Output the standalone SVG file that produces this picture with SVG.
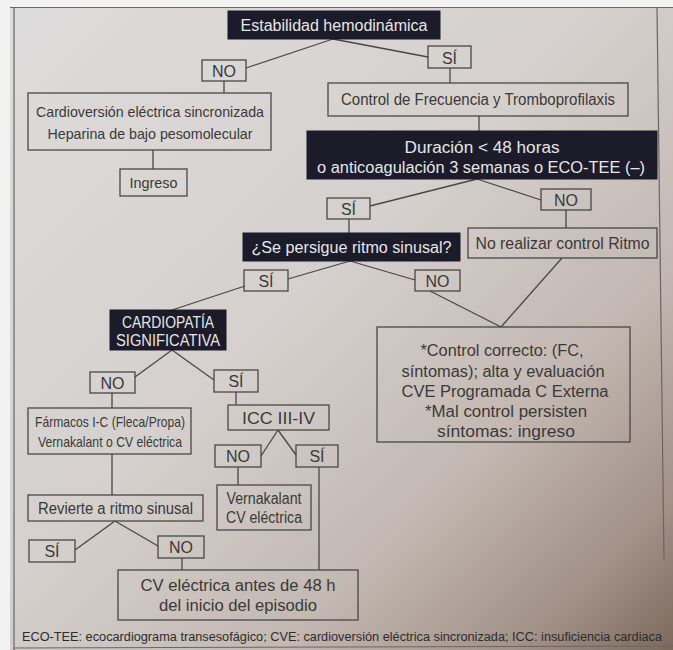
<svg xmlns="http://www.w3.org/2000/svg" width="673" height="650" viewBox="0 0 673 650">
<defs>
<linearGradient id="bg" x1="0" y1="0" x2="1" y2="1">
<stop offset="0" stop-color="#dddcdc"/>
<stop offset="0.45" stop-color="#d5d0cd"/>
<stop offset="0.7" stop-color="#c3b8b2"/>
<stop offset="0.88" stop-color="#a29288"/>
<stop offset="1" stop-color="#7c695e"/>
</linearGradient>
<style>
.b{fill:none;stroke:#4a4745;stroke-width:1.3}
.d{fill:#1c1b29;stroke:#1c1b29;stroke-width:1}
.t{font-family:"Liberation Sans",Arial,sans-serif;font-size:16px;fill:#3b3937;text-anchor:middle}
.s{font-size:15px}
.w{fill:#e6e6e6}
.f{font-family:"Liberation Sans Narrow","Liberation Sans",Arial,sans-serif;font-size:12.5px;fill:#2e2c2b;text-anchor:middle}
.c line{stroke:#4a4745;stroke-width:1.3;fill:none}
</style>
</defs>
<rect x="0" y="0" width="673" height="650" fill="#f2f2f2"/>
<rect x="10" y="7" width="663" height="643" fill="url(#bg)"/>
<g id="frame" fill="none" stroke="#6a6664" stroke-width="1.2">
<line x1="14" y1="7" x2="14" y2="650"/>
<line x1="10" y1="7.5" x2="673" y2="7.5"/>
<line x1="657" y1="7" x2="664" y2="560"/>
<line x1="14" y1="648" x2="673" y2="646"/>
</g>

<g class="c" id="connectors">
<line x1="333" y1="39" x2="246" y2="68"/>
<line x1="333" y1="39" x2="428" y2="57"/>
<line x1="224" y1="81" x2="224" y2="93"/>
<line x1="450" y1="68" x2="450" y2="83"/>
<line x1="153" y1="150" x2="153" y2="169"/>
<line x1="479" y1="116" x2="479" y2="131"/>
<line x1="477" y1="179" x2="370" y2="206"/>
<line x1="477" y1="179" x2="541" y2="200"/>
<line x1="349" y1="219" x2="349" y2="233"/>
<line x1="566" y1="210" x2="566" y2="228"/>
<line x1="350" y1="261" x2="288" y2="279"/>
<line x1="350" y1="261" x2="415" y2="280"/>
<line x1="245" y1="286" x2="172" y2="310"/>
<line x1="430" y1="291" x2="501" y2="327"/>
<line x1="562" y1="258" x2="501" y2="327"/>
<line x1="172" y1="350" x2="135" y2="377"/>
<line x1="172" y1="350" x2="214" y2="380"/>
<line x1="112" y1="393" x2="112" y2="408"/>
<line x1="236" y1="392" x2="236" y2="405"/>
<line x1="278" y1="430" x2="261" y2="456"/>
<line x1="278" y1="430" x2="296" y2="455"/>
<line x1="238" y1="467" x2="238" y2="485"/>
<line x1="319" y1="467" x2="319" y2="570"/>
<line x1="112" y1="454" x2="112" y2="495"/>
<line x1="115" y1="521" x2="75" y2="550"/>
<line x1="115" y1="521" x2="158" y2="546"/>
<line x1="182" y1="558" x2="182" y2="570"/>
</g>

<g id="n-estabilidad">
<rect class="d" x="228" y="11" width="212" height="28"/>
<text class="t w" x="334" y="30.5" textLength="187" lengthAdjust="spacingAndGlyphs">Estabilidad hemodinámica</text>
</g>
<g id="n-no1">
<rect class="b" x="202" y="60" width="44" height="21"/>
<text class="t" x="224" y="76.5">NO</text>
</g>
<g id="n-si1">
<rect class="b" x="428" y="46" width="43" height="22"/>
<text class="t" x="449.5" y="63.5">SÍ</text>
</g>
<g id="n-cardioversion">
<rect class="b" x="28" y="93" width="243" height="57"/>
<text class="t s" x="150" y="117" textLength="228" lengthAdjust="spacingAndGlyphs">Cardioversión eléctrica sincronizada</text>
<text class="t s" x="150" y="139" textLength="205" lengthAdjust="spacingAndGlyphs">Heparina de bajo pesomolecular</text>
</g>
<g id="n-ingreso">
<rect class="b" x="120" y="169" width="67" height="27"/>
<text class="t s" x="153.5" y="188" textLength="48" lengthAdjust="spacingAndGlyphs">Ingreso</text>
</g>
<g id="n-control">
<rect class="b" x="328" y="83" width="300" height="33"/>
<text class="t" x="478" y="105" textLength="274" lengthAdjust="spacingAndGlyphs">Control de Frecuencia y Tromboprofilaxis</text>
</g>
<g id="n-duracion">
<rect class="d" x="307" y="131" width="350" height="48"/>
<text class="t w" x="482" y="153" textLength="155" lengthAdjust="spacingAndGlyphs">Duración &lt; 48 horas</text>
<text class="t w" x="481" y="173" textLength="328" lengthAdjust="spacingAndGlyphs">o anticoagulación 3 semanas o ECO-TEE (–)</text>
</g>
<g id="n-si2">
<rect class="b" x="327" y="198" width="43" height="21"/>
<text class="t" x="348.5" y="214.5">SÍ</text>
</g>
<g id="n-no2">
<rect class="b" x="541" y="189" width="50" height="21"/>
<text class="t" x="566" y="205.5">NO</text>
</g>
<g id="n-persigue">
<rect class="d" x="243" y="233" width="217" height="28"/>
<text class="t w" x="351.5" y="252.5" textLength="200" lengthAdjust="spacingAndGlyphs">¿Se persigue ritmo sinusal?</text>
</g>
<g id="n-norealizar">
<rect class="b" x="468" y="228" width="189" height="30"/>
<text class="t" x="562.5" y="248.5" textLength="174" lengthAdjust="spacingAndGlyphs">No realizar control Ritmo</text>
</g>
<g id="n-si3">
<rect class="b" x="244" y="270" width="44" height="21"/>
<text class="t" x="266" y="286.5">SÍ</text>
</g>
<g id="n-no3">
<rect class="b" x="415" y="270" width="45" height="21"/>
<text class="t" x="437.5" y="286.5">NO</text>
</g>
<g id="n-cardiopatia">
<rect class="d" x="110" y="310" width="116" height="40"/>
<text class="t w" x="168" y="328" textLength="92" lengthAdjust="spacingAndGlyphs">CARDIOPATÍA</text>
<text class="t w" x="168" y="346" textLength="104" lengthAdjust="spacingAndGlyphs">SIGNIFICATIVA</text>
</g>
<g id="n-controlcorrecto">
<rect class="b" x="377" y="327" width="253" height="115"/>
<text class="t" x="502" y="356" textLength="163" lengthAdjust="spacingAndGlyphs">*Control correcto: (FC,</text>
<text class="t" x="503" y="377" textLength="203" lengthAdjust="spacingAndGlyphs">síntomas); alta y evaluación</text>
<text class="t" x="505" y="397" textLength="207" lengthAdjust="spacingAndGlyphs">CVE Programada C Externa</text>
<text class="t" x="506" y="417" textLength="162" lengthAdjust="spacingAndGlyphs">*Mal control persisten</text>
<text class="t" x="506" y="437" textLength="138" lengthAdjust="spacingAndGlyphs">síntomas: ingreso</text>
</g>
<g id="n-no4">
<rect class="b" x="90" y="372" width="45" height="21"/>
<text class="t" x="112.5" y="388.5">NO</text>
</g>
<g id="n-si4">
<rect class="b" x="214" y="370" width="44" height="22"/>
<text class="t" x="236" y="387">SÍ</text>
</g>
<g id="n-farmacos">
<rect class="b" x="28" y="408" width="163" height="46"/>
<text class="t s" x="110" y="427" textLength="150" lengthAdjust="spacingAndGlyphs">Fármacos I-C (Fleca/Propa)</text>
<text class="t s" x="110" y="447" textLength="144" lengthAdjust="spacingAndGlyphs">Vernakalant o CV eléctrica</text>
</g>
<g id="n-icc">
<rect class="b" x="228" y="405" width="101" height="25"/>
<text class="t" x="278.5" y="423.5" textLength="73" lengthAdjust="spacingAndGlyphs">ICC III-IV</text>
</g>
<g id="n-no5">
<rect class="b" x="215" y="445" width="46" height="22"/>
<text class="t" x="238" y="461.5">NO</text>
</g>
<g id="n-si5">
<rect class="b" x="296" y="445" width="42" height="22"/>
<text class="t" x="317" y="461.5">SÍ</text>
</g>
<g id="n-vernakalant">
<rect class="b" x="217" y="485" width="94" height="45"/>
<text class="t" x="264" y="504" textLength="75" lengthAdjust="spacingAndGlyphs">Vernakalant</text>
<text class="t" x="264" y="523" textLength="76" lengthAdjust="spacingAndGlyphs">CV eléctrica</text>
</g>
<g id="n-revierte">
<rect class="b" x="28" y="495" width="175" height="26"/>
<text class="t" x="115.5" y="513.5" textLength="155" lengthAdjust="spacingAndGlyphs">Revierte a ritmo sinusal</text>
</g>
<g id="n-si6">
<rect class="b" x="29" y="540" width="46" height="22"/>
<text class="t" x="52" y="557">SÍ</text>
</g>
<g id="n-no6">
<rect class="b" x="158" y="536" width="46" height="22"/>
<text class="t" x="181" y="552.5">NO</text>
</g>
<g id="n-cvantes">
<rect class="b" x="118" y="570" width="240" height="50"/>
<text class="t" x="238" y="591" textLength="195" lengthAdjust="spacingAndGlyphs">CV eléctrica antes de 48 h</text>
<text class="t" x="238" y="611" textLength="158" lengthAdjust="spacingAndGlyphs">del inicio del episodio</text>
</g>
<text class="f" x="342" y="641" textLength="640" lengthAdjust="spacingAndGlyphs">ECO-TEE: ecocardiograma transesofágico; CVE: cardioversión eléctrica sincronizada; ICC: insuficiencia cardiaca</text>
</svg>
